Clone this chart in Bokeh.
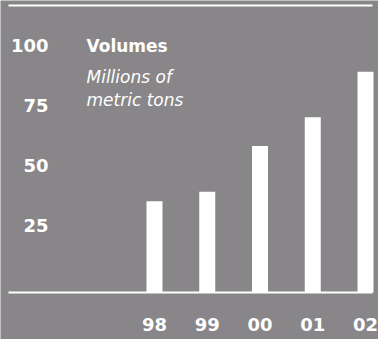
from bokeh.plotting import figure
from bokeh.models import Range1d, Label
from bokeh.core.properties import value
from bokeh.embed import file_html
from bokeh.resources import INLINE

# ---- data ----
years = ["98", "99", "00", "01", "02"]
volumes = [38, 42, 61, 73, 92]
y_ticks = [25, 50, 75, 100]
y_tick_labels = ["25", "50", "75", "100"]
title = "Volumes"
subtitle = ["Millions of", "metric tons"]

# ---- layout ----
W, H = 378, 339
BG = "#888688"
FONT = "DejaVu Sans"
x0_px, dx_px = 154.0, 52.75   # pixel centre of first bar, bar spacing
zero_px, ppu = 292.0, 2.4     # pixel row of value 0, pixels per unit
SHIFT = 7                     # text baseline correction (px, upward)

x_start = -x0_px / dx_px
x_end = (W - x0_px) / dx_px
y_end = zero_px / ppu
y_start = -(H - zero_px) / ppu


def px_x(px):
    return x_start + px / dx_px


def px_y(py):
    return (zero_px - py) / ppu


p = figure(width=W, height=H,
           x_range=Range1d(x_start, x_end), y_range=Range1d(y_start, y_end),
           x_axis_type=None, y_axis_type=None,
           toolbar_location=None, output_backend="svg",
           min_border=0, outline_line_color=None,
           background_fill_color=BG, border_fill_color=BG)

idx = list(range(len(years)))

# bars
p.vbar(x=idx, top=volumes, bottom=0, width=16 / dx_px,
       fill_color="white", line_color=None)

# baseline and top rule
p.segment(x0=[px_x(8)], y0=[0], x1=[px_x(372)], y1=[0],
          line_color="white", line_width=2)
p.segment(x0=[px_x(8)], y0=[px_y(5)], x1=[px_x(372)], y1=[px_y(5)],
          line_color="white", line_width=2)

# y tick labels
p.text(x=[px_x(48)] * len(y_ticks), y=[t + SHIFT / ppu for t in y_ticks],
       text=y_tick_labels,
       text_align="right", text_baseline="alphabetic",
       text_font=value(FONT), text_font_style="bold",
       text_font_size="18px", text_color="white")

# x labels
p.text(x=idx, y=[px_y(331 - SHIFT)] * len(years), text=years,
       text_align="center", text_baseline="alphabetic",
       text_font=value(FONT), text_font_style="bold",
       text_font_size="18px", text_color="white")

# titles
p.add_layout(Label(x=px_x(86), y=px_y(52 - SHIFT), text=title,
                   text_align="left", text_baseline="alphabetic",
                   text_font=FONT, text_font_style="bold",
                   text_font_size="17px", text_color="white"))
p.add_layout(Label(x=px_x(86), y=px_y(83 - SHIFT), text=subtitle[0],
                   text_align="left", text_baseline="alphabetic",
                   text_font=FONT, text_font_style="italic",
                   text_font_size="17px", text_color="white"))
p.add_layout(Label(x=px_x(86), y=px_y(106 - SHIFT), text=subtitle[1],
                   text_align="left", text_baseline="alphabetic",
                   text_font=FONT, text_font_style="italic",
                   text_font_size="17px", text_color="white"))

open("out.html", "w").write(file_html(p, INLINE))
